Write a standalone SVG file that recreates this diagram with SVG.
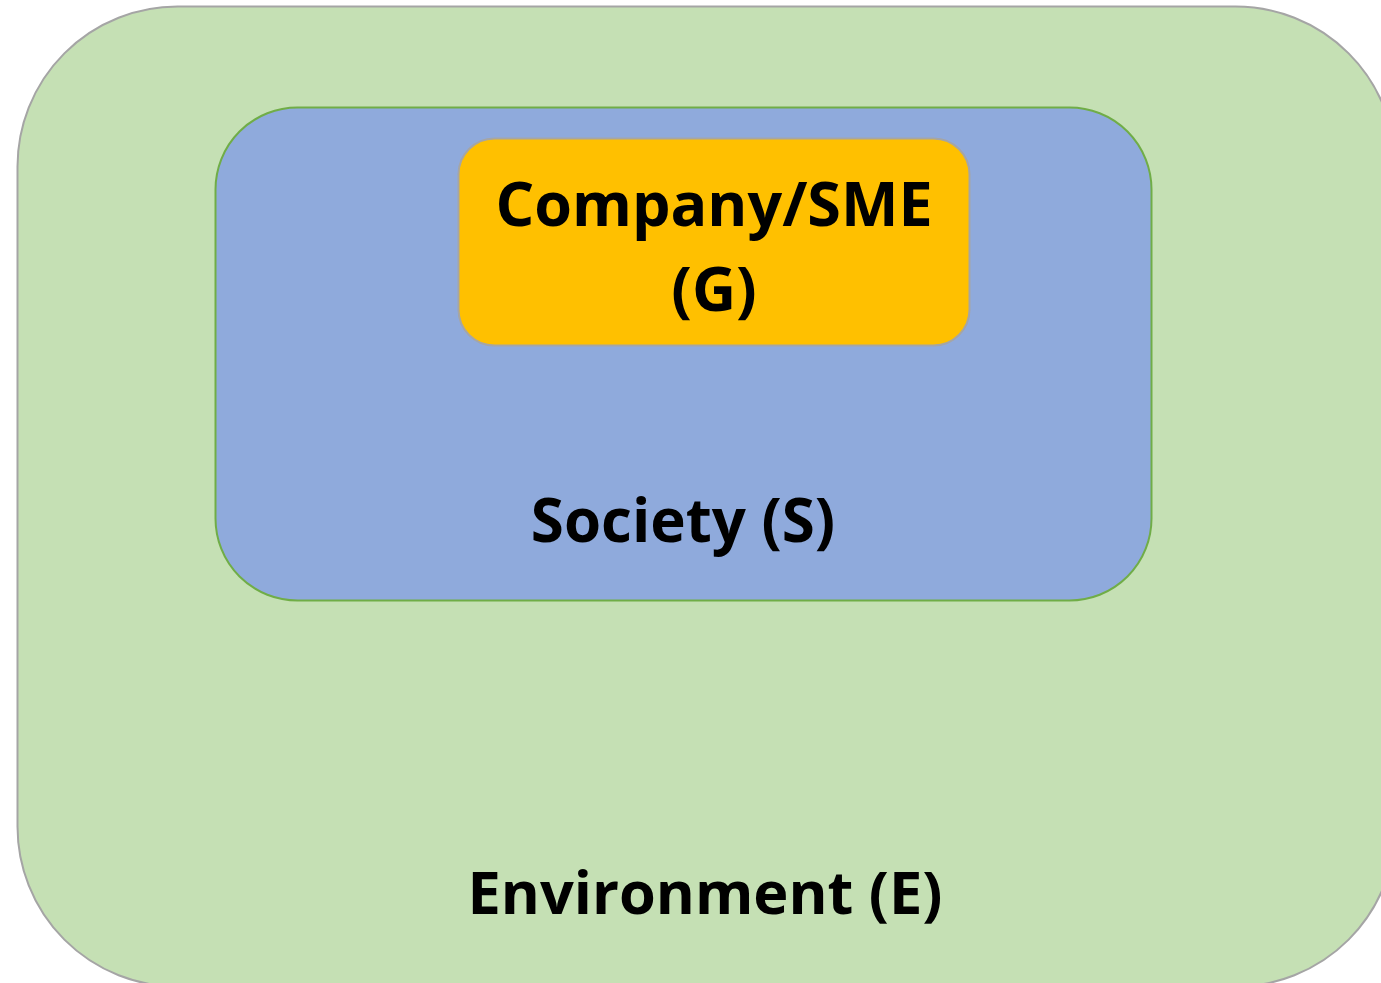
<svg xmlns="http://www.w3.org/2000/svg" width="1381" height="983" viewBox="0 0 1381 983">
<style>
.lbl{font-family:"Open Sans","Noto Sans","Liberation Sans",sans-serif;font-weight:bold;fill:#000;text-anchor:middle}
</style>
<rect width="1381" height="983" fill="#FFFFFF"/>
<g id="environment">
<rect x="17.5" y="6.5" width="1378" height="980" rx="160" ry="160" fill="#C5E0B4" stroke="#A5A5A5" stroke-width="2"/>
<text class="lbl" x="705" y="914" font-size="59.5">Environment (E)</text>
</g>
<g id="society">
<rect x="215.5" y="107.5" width="936" height="493" rx="82" ry="82" fill="#8FAADC" stroke="#70AD47" stroke-width="2"/>
<text class="lbl" x="683" y="542" font-size="60">Society (S)</text>
</g>
<g id="company">
<rect x="458.5" y="138.5" width="511" height="207" rx="36" ry="36" fill="#FFC000" stroke="#A5A5A5" stroke-width="2"/>
<text class="lbl" x="714" y="226" font-size="61">Company/SME</text>
<text class="lbl" x="714" y="311" font-size="61">(G)</text>
</g>
<g id="connectors"/>
</svg>
